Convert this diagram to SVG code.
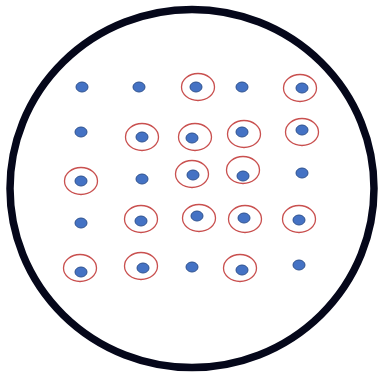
<svg xmlns="http://www.w3.org/2000/svg" width="381" height="376" viewBox="0 0 381 376">
<style>
.rim{fill:#fff;stroke:#05071a;stroke-width:7.5}
.dot{fill:#4472c4;stroke:#2f528f;stroke-width:1}
.ring{fill:none;stroke:#c9504f;stroke-width:1.3}
</style>
<rect width="381" height="376" fill="#fff"/>
<g id="plate"><ellipse class="rim" cx="192" cy="188.5" rx="182" ry="179"/></g>
<g id="connectors"></g>
<g id="rings">
<ellipse class="ring" cx="198" cy="87" rx="16.5" ry="13.5"/>
<ellipse class="ring" cx="300" cy="88" rx="16.5" ry="13.5"/>
<ellipse class="ring" cx="142" cy="137" rx="16.5" ry="13.5"/>
<ellipse class="ring" cx="195" cy="137" rx="16.5" ry="13.5"/>
<ellipse class="ring" cx="244" cy="134" rx="16.5" ry="13.5"/>
<ellipse class="ring" cx="302" cy="132" rx="16.5" ry="13.5"/>
<ellipse class="ring" cx="81" cy="181" rx="16.5" ry="13.5"/>
<ellipse class="ring" cx="192" cy="174" rx="16.5" ry="13.5"/>
<ellipse class="ring" cx="243" cy="170" rx="16.5" ry="13.5"/>
<ellipse class="ring" cx="141" cy="219" rx="16.5" ry="13.5"/>
<ellipse class="ring" cx="199" cy="218" rx="16.5" ry="13.5"/>
<ellipse class="ring" cx="245" cy="219" rx="16.5" ry="13.5"/>
<ellipse class="ring" cx="299" cy="219" rx="16.5" ry="13.5"/>
<ellipse class="ring" cx="80" cy="268" rx="16.5" ry="13.5"/>
<ellipse class="ring" cx="141" cy="266" rx="16.5" ry="13.5"/>
<ellipse class="ring" cx="240" cy="268" rx="16.5" ry="13.5"/>
</g>
<g id="dots">
<ellipse class="dot" cx="82" cy="87" rx="6" ry="5"/>
<ellipse class="dot" cx="139" cy="87" rx="6" ry="5"/>
<ellipse class="dot" cx="196" cy="87" rx="6" ry="5"/>
<ellipse class="dot" cx="242" cy="87" rx="6" ry="5"/>
<ellipse class="dot" cx="302" cy="88" rx="6" ry="5"/>
<ellipse class="dot" cx="81" cy="132" rx="6" ry="5"/>
<ellipse class="dot" cx="142" cy="137" rx="6" ry="5"/>
<ellipse class="dot" cx="192" cy="138" rx="6" ry="5"/>
<ellipse class="dot" cx="242" cy="132" rx="6" ry="5"/>
<ellipse class="dot" cx="302" cy="130" rx="6" ry="5"/>
<ellipse class="dot" cx="81" cy="181" rx="6" ry="5"/>
<ellipse class="dot" cx="142" cy="179" rx="6" ry="5"/>
<ellipse class="dot" cx="193" cy="175" rx="6" ry="5"/>
<ellipse class="dot" cx="243" cy="176" rx="6" ry="5"/>
<ellipse class="dot" cx="302" cy="173" rx="6" ry="5"/>
<ellipse class="dot" cx="81" cy="223" rx="6" ry="5"/>
<ellipse class="dot" cx="141" cy="221" rx="6" ry="5"/>
<ellipse class="dot" cx="197" cy="216" rx="6" ry="5"/>
<ellipse class="dot" cx="244" cy="218" rx="6" ry="5"/>
<ellipse class="dot" cx="299" cy="220" rx="6" ry="5"/>
<ellipse class="dot" cx="81" cy="272" rx="6" ry="5"/>
<ellipse class="dot" cx="143" cy="268" rx="6" ry="5"/>
<ellipse class="dot" cx="192" cy="267" rx="6" ry="5"/>
<ellipse class="dot" cx="242" cy="270" rx="6" ry="5"/>
<ellipse class="dot" cx="299" cy="265" rx="6" ry="5"/>
</g>
</svg>
